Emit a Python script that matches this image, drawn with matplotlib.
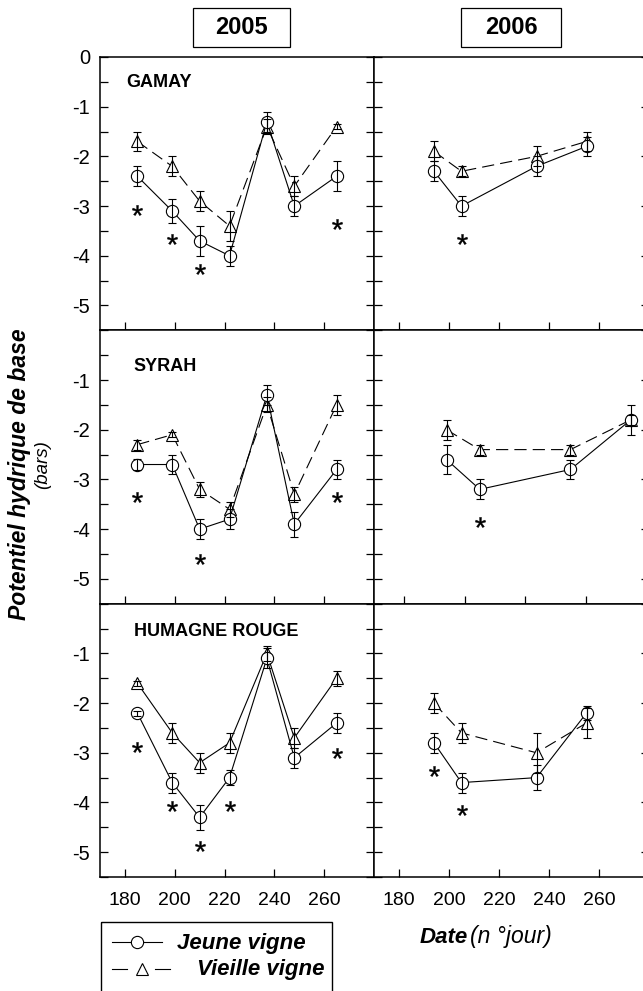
import numpy as np
import matplotlib
matplotlib.use('Agg')
import matplotlib.pyplot as plt
from matplotlib.patches import Rectangle
from matplotlib.lines import Line2D

plt.rcParams['font.family'] = ['Liberation Sans', 'DejaVu Sans']
plt.rcParams['mathtext.fontset'] = 'custom'
plt.rcParams['mathtext.rm'] = 'Liberation Sans:bold'
plt.rcParams['mathtext.default'] = 'regular'

# jours de mesure
dates_2005 = [185, 199, 210, 222, 237, 248, 265]
dates_2006 = [194, 205, 235, 255]

# GAMAY
gamay_2005_jeune = [-2.4, -3.1, -3.7, -4.0, -1.3, -3.0, -2.4]
gamay_2005_jeune_err = [0.2, 0.25, 0.3, 0.2, 0.2, 0.2, 0.3]
gamay_2005_vieille = [-1.7, -2.2, -2.9, -3.4, -1.4, -2.6, -1.4]
gamay_2005_vieille_err = [0.2, 0.2, 0.2, 0.3, 0.15, 0.2, 0.05]
gamay_2005_stars_x = [185, 199, 210, 265]
gamay_2005_stars_y = [-3.07, -3.67, -4.26, -3.37]

gamay_2006_jeune = [-2.3, -3.0, -2.2, -1.8]
gamay_2006_jeune_err = [0.2, 0.2, 0.2, 0.2]
gamay_2006_vieille = [-1.9, -2.3, -2.0, -1.7]
gamay_2006_vieille_err = [0.2, 0.1, 0.2, 0.2]
gamay_2006_stars_x = [205]
gamay_2006_stars_y = [-3.67]

# SYRAH
syrah_2005_jeune = [-2.7, -2.7, -4.0, -3.8, -1.3, -3.9, -2.8]
syrah_2005_jeune_err = [0.12, 0.2, 0.2, 0.2, 0.2, 0.25, 0.2]
syrah_2005_vieille = [-2.3, -2.1, -3.2, -3.6, -1.5, -3.3, -1.5]
syrah_2005_vieille_err = [0.1, 0.05, 0.15, 0.15, 0.15, 0.15, 0.2]
syrah_2005_stars_x = [185, 210, 265]
syrah_2005_stars_y = [-3.35, -4.61, -3.35]

syrah_2006_jeune = [-2.6, -3.2, -2.8, -1.8]
syrah_2006_jeune_err = [0.3, 0.2, 0.2, 0.3]
syrah_2006_vieille = [-2.0, -2.4, -2.4, -1.8]
syrah_2006_vieille_err = [0.2, 0.1, 0.1, 0.1]
syrah_2006_stars_x = [205]
syrah_2006_stars_y = [-3.85]

# HUMAGNE ROUGE
humagne_2005_jeune = [-2.2, -3.6, -4.3, -3.5, -1.1, -3.1, -2.4]
humagne_2005_jeune_err = [0.05, 0.2, 0.25, 0.15, 0.2, 0.2, 0.2]
humagne_2005_vieille = [-1.6, -2.6, -3.2, -2.8, -1.0, -2.7, -1.5]
humagne_2005_vieille_err = [0.05, 0.2, 0.2, 0.2, 0.15, 0.2, 0.15]
humagne_2005_stars_x = [185, 199, 210, 222, 265]
humagne_2005_stars_y = [-2.89, -4.07, -4.87, -4.07, -3.0]

humagne_2006_jeune = [-2.8, -3.6, -3.5, -2.2]
humagne_2006_jeune_err = [0.2, 0.2, 0.25, 0.15]
humagne_2006_vieille = [-2.0, -2.6, -3.0, -2.4]
humagne_2006_vieille_err = [0.2, 0.2, 0.4, 0.3]
humagne_2006_stars_x = [194, 205]
humagne_2006_stars_y = [-3.37, -4.16]

cepages = ['GAMAY', 'SYRAH', 'HUMAGNE ROUGE']
y_ticks = [0, -1, -2, -3, -4, -5]
x_ticks = [180, 200, 220, 240, 260]

W, H = 643, 991
fig = plt.figure(figsize=(W / 100, H / 100), dpi=100)


def px_axes(x0, y0, x1, y1, **kw):
    return fig.add_axes([x0 / W, 1 - y1 / H, (x1 - x0) / W, (y1 - y0) / H], **kw)


def draw_panel(ax, x, jeune, jeune_err, vieille, vieille_err, sx, sy, dashed=True):
    ls = (0, (11, 5.5)) if dashed else '-'
    ax.plot(x, vieille, color='black', lw=0.8, ls=ls, marker='^', ms=9,
            mfc='white', mec='black', mew=0.8, zorder=3)
    ax.plot(x, jeune, color='black', lw=0.8, marker='o', ms=8.8,
            mfc='white', mec='black', mew=0.8, zorder=3)
    ax.errorbar(x, vieille, yerr=vieille_err, fmt='none', ecolor='black',
                elinewidth=0.8, capsize=3, capthick=0.8, zorder=4)
    ax.errorbar(x, jeune, yerr=jeune_err, fmt='none', ecolor='black',
                elinewidth=0.8, capsize=3, capthick=0.8, zorder=4)
    ax.plot(sx, sy, ls='none', marker='$*$', ms=7.5, color='black',
            mew=0.3, zorder=5)


rows = [(57, 330.3), (330.3, 603.7), (603.7, 877)]
panels = [
    (gamay_2005_jeune, gamay_2005_jeune_err, gamay_2005_vieille, gamay_2005_vieille_err,
     gamay_2005_stars_x, gamay_2005_stars_y,
     gamay_2006_jeune, gamay_2006_jeune_err, gamay_2006_vieille, gamay_2006_vieille_err,
     gamay_2006_stars_x, gamay_2006_stars_y),
    (syrah_2005_jeune, syrah_2005_jeune_err, syrah_2005_vieille, syrah_2005_vieille_err,
     syrah_2005_stars_x, syrah_2005_stars_y,
     syrah_2006_jeune, syrah_2006_jeune_err, syrah_2006_vieille, syrah_2006_vieille_err,
     syrah_2006_stars_x, syrah_2006_stars_y),
    (humagne_2005_jeune, humagne_2005_jeune_err, humagne_2005_vieille, humagne_2005_vieille_err,
     humagne_2005_stars_x, humagne_2005_stars_y,
     humagne_2006_jeune, humagne_2006_jeune_err, humagne_2006_vieille, humagne_2006_vieille_err,
     humagne_2006_stars_x, humagne_2006_stars_y),
]
label_pos = [(180.4, -0.52), (183.6, -0.72), (183.6, -0.56)]

for i, (top, bottom) in enumerate(rows):
    d = panels[i]
    ax1 = px_axes(100, top, 374, bottom)
    ax2 = px_axes(374, top, 649, bottom)

    draw_panel(ax1, dates_2005, d[0], d[1], d[2], d[3], d[4], d[5], dashed=(i != 2))
    draw_panel(ax2, dates_2006, d[6], d[7], d[8], d[9], d[10], d[11])

    ax1.text(label_pos[i][0], label_pos[i][1], cepages[i], fontsize=13,
             fontweight='bold', ha='left', va='center')

    for ax in (ax1, ax2):
        ax.set_ylim(-5.5, 0)
        ax.set_xlim(170, 280)
        ax.set_xticks(x_ticks)
        ax.set_yticks(y_ticks)
        ax.yaxis.set_minor_locator(plt.MultipleLocator(0.5))
        for s in ax.spines.values():
            s.set_linewidth(1.1)
        ax.tick_params(axis='x', direction='in', length=6, width=0.9,
                       top=False, labelsize=14, pad=11)
        ax.tick_params(axis='y', which='both', direction='in', length=6,
                       width=0.9, left=True, right=True, labelsize=14.5, pad=7)
        if i < 2:
            ax.tick_params(axis='x', labelbottom=False)

    # 2006 : ticks a droite seulement aux entiers
    ax2.tick_params(axis='y', which='minor', right=False)
    ax2.tick_params(axis='y', labelleft=False)
    if i == 1:
        ax2.set_xlim(170, 261)
    if i == 0:
        ax1.set_yticklabels([str(v) for v in y_ticks])
    else:
        ax1.set_yticklabels([''] + [str(v) for v in y_ticks[1:]])

# couche de texte en pixels
ov = fig.add_axes([0, 0, 1, 1])
ov.set_xlim(0, W)
ov.set_ylim(H, 0)
ov.axis('off')

for (x0, x1), year in zip([(193, 290), (461, 561)], ['2005', '2006']):
    ov.add_patch(Rectangle((x0, 8), x1 - x0, 39, fill=False, lw=0.9, ec='black'))
    ov.text((x0 + x1) / 2, 28, year, fontsize=17, fontweight='bold',
            ha='center', va='center')

ov.text(20, 474, 'Potentiel hydrique de base', rotation=90, fontsize=16.5,
        fontweight='bold', fontstyle='italic', ha='center', va='center')
ov.text(43, 465, '(bars)', rotation=90, fontsize=13.5, fontstyle='italic',
        ha='center', va='center')

ov.text(420, 943, 'Date', fontsize=16, fontweight='bold', fontstyle='italic',
        ha='left', va='baseline')
ov.text(470, 943, '(n \u00b0jour)', fontsize=16.5, fontstyle='italic',
        ha='left', va='baseline')

# legende
ov.add_patch(Rectangle((101, 922), 231, 75, fill=False, lw=1.0, ec='black'))
ov.add_line(Line2D([112, 162], [942, 942], color='black', lw=0.8))
ov.plot([137], [942], marker='o', ms=8.8, mfc='white', mec='black', mew=0.8)
ov.add_line(Line2D([112, 127], [969, 969], color='black', lw=0.8))
ov.add_line(Line2D([155, 170], [969, 969], color='black', lw=0.8))
ov.plot([142], [969], marker='^', ms=9, mfc='white', mec='black', mew=0.8)
ov.text(177, 943, 'Jeune vigne', fontsize=16, fontweight='bold',
        fontstyle='italic', ha='left', va='center')
ov.text(197, 970, 'Vieille vigne', fontsize=16, fontweight='bold',
        fontstyle='italic', ha='left', va='center')

fig.savefig('out.png', dpi=100)
